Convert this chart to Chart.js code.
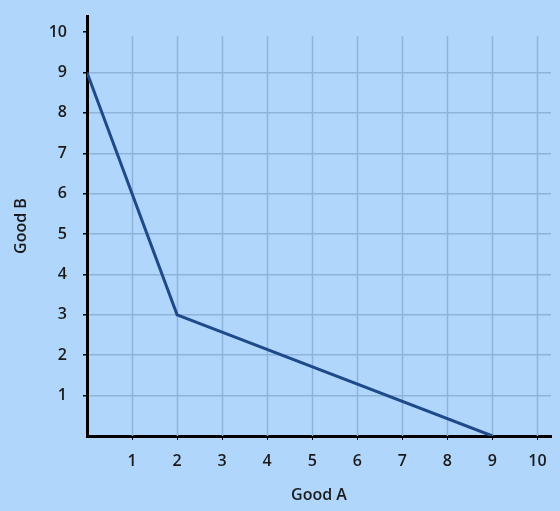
<!DOCTYPE html>
<html>
<head>
<meta charset="utf-8">
<script src="https://cdn.jsdelivr.net/npm/chart.js@4"></script>
<style>
  html, body { margin: 0; padding: 0; background: #b0d6fc; }
  #wrap { width: 560px; height: 511px; }
</style>
</head>
<body>
<div id="wrap"><canvas id="ppf"></canvas></div>
<script>
// PPF points
const goodA = [0, 2, 9];
const goodB = [9, 3, 0];
const xTicks = [1, 2, 3, 4, 5, 6, 7, 8, 9, 10];
const yTicks = [1, 2, 3, 4, 5, 6, 7, 8, 9, 10];

const points = goodA.map((a, i) => ({ x: a, y: goodB[i] }));
const gridColor = '#8eb4da';
const font = { family: "'Open Sans', 'Noto Sans', sans-serif", size: 16, weight: '600' };

// vertical grid lines stop a bit below the top of the y axis
const vGrid = {
  id: 'vGrid',
  beforeDatasetsDraw(chart) {
    const { ctx, scales, chartArea } = chart;
    const top = scales.y.getPixelForValue(9.9);
    ctx.save();
    ctx.strokeStyle = gridColor;
    ctx.lineWidth = 1.5;
    xTicks.forEach((v) => {
      const px = Math.round(scales.x.getPixelForValue(v)) + 0.5;
      ctx.beginPath();
      ctx.moveTo(px, top);
      ctx.lineTo(px, chartArea.bottom);
      ctx.stroke();
    });
    ctx.restore();
  },
};

new Chart(document.getElementById('ppf'), {
  type: 'scatter',
  data: {
    datasets: [{
      data: points,
      showLine: true,
      borderColor: '#1f4a8a',
      borderWidth: 3,
      pointRadius: 0,
      tension: 0,
    }],
  },
  options: {
    responsive: true,
    maintainAspectRatio: false,
    animation: false,
    layout: { padding: { top: 16, right: 9, bottom: 2, left: 8 } },
    plugins: { legend: { display: false }, tooltip: { enabled: false } },
    scales: {
      x: {
        type: 'linear',
        min: 0,
        max: 10.3,
        afterBuildTicks: (axis) => { axis.ticks = xTicks.map((v) => ({ value: v })); },
        afterFit: (axis) => { axis.height = 73; axis.paddingLeft = 0; axis.paddingRight = 0; },
        border: { display: true, color: '#000', width: 3 },
        grid: { drawOnChartArea: false, tickColor: '#000', tickLength: 4 },
        ticks: { color: '#1a1a1a', font: font, padding: 12 },
        title: { display: true, text: 'Good A', color: '#1a1a1a', font: font, padding: { top: 16 } },
      },
      y: {
        type: 'linear',
        min: 0,
        max: 10.4,
        afterBuildTicks: (axis) => { axis.ticks = yTicks.map((v) => ({ value: v })); },
        afterFit: (axis) => { axis.width = 79; axis.paddingTop = 0; axis.paddingBottom = 0; },
        border: { display: true, color: '#000', width: 3 },
        grid: {
          color: (ctx) => (ctx.tick && ctx.tick.value === 10 ? 'rgba(0,0,0,0)' : gridColor),
          lineWidth: 1.5,
          tickColor: '#000',
          tickLength: 4,
        },
        ticks: { color: '#1a1a1a', font: font, padding: 16 },
        title: { display: true, text: 'Good B', color: '#1a1a1a', font: font, padding: { bottom: 6 } },
      },
    },
  },
  plugins: [vGrid],
});
</script>
</body>
</html>
